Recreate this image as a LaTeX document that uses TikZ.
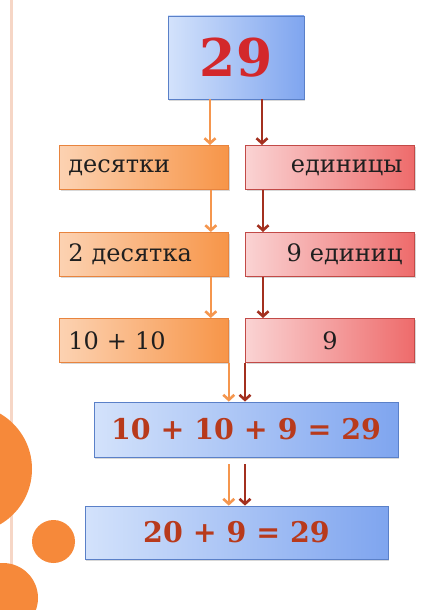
\documentclass[tikz,border=0pt]{standalone}
\usepackage{fontspec}
\setmainfont{DejaVu Serif}
\usetikzlibrary{arrows.meta,shadows}
\definecolor{blueL}{HTML}{D3E2FB}
\definecolor{blueR}{HTML}{7FA5EF}
\definecolor{blueline}{HTML}{5A80C8}
\definecolor{orangeL}{HTML}{FCD2B2}
\definecolor{orangeR}{HTML}{F79548}
\definecolor{orangeline}{HTML}{E8843E}
\definecolor{redL}{HTML}{FAD3D3}
\definecolor{redR}{HTML}{EE6B6B}
\definecolor{redline}{HTML}{C24A47}
\definecolor{tenarrowc}{HTML}{F5964E}
\definecolor{unitarrowc}{HTML}{A3301F}
\definecolor{sumred}{HTML}{B83A1C}
\definecolor{bigred}{HTML}{D3282B}
\definecolor{dotorange}{HTML}{F6893A}
\definecolor{railc}{HTML}{F6D6C6}
\tikzset{
  box/.style={draw,line width=0.8pt,minimum height=44pt,inner ysep=0pt,
    drop shadow={shadow xshift=1.2pt,shadow yshift=-1.6pt,opacity=.3},
    font=\fontsize{24}{26}\selectfont,text=black!88},
  tenbox/.style={box,draw=orangeline,left color=orangeL,right color=orangeR,
    text width=151pt,inner xsep=9pt,align=left},
  unitbox/.style={box,draw=redline,left color=redL,right color=redR,
    text width=145pt,inner xsep=12pt,align=right},
  sumbox/.style={draw=blueline,line width=0.8pt,left color=blueL,right color=blueR,
    drop shadow={shadow xshift=1.2pt,shadow yshift=-1.6pt,opacity=.3},
    font=\bfseries\fontsize{28.5}{30}\selectfont,text=sumred},
  tenarrow/.style={->,draw=tenarrowc,line width=2.6pt},
  unitarrow/.style={->,draw=unitarrowc,line width=2.6pt}
}
\begin{document}
\begin{tikzpicture}[x=1pt,y=-1pt,>={Straight Barb[length=5pt,width=11pt]}]
\useasboundingbox[fill=white](0,0)rectangle(445,610);
\clip(0,0)rectangle(445,610);
% left rail and dots
\draw[railc,line width=3pt](11,0)--(11,610);
\fill[dotorange](-32,469)circle(64);
\fill[dotorange](53.5,541.5)circle(21.5);
\fill[dotorange](3,598)circle(35);
% boxes
\node[sumbox,minimum width=136pt,minimum height=83pt,
  font=\bfseries\fontsize{52}{54}\selectfont,text=bigred](top)at(236,57.5){29};
\node[tenbox,anchor=north west](dec)at(59,145){десятки};
\node[unitbox,anchor=north west](unit)at(245,145){единицы};
\node[tenbox,anchor=north west](dec2)at(59,232){2 десятка};
\node[unitbox,anchor=north west](unit2)at(245,232){9 единиц};
\node[tenbox,anchor=north west](dec3)at(59,318){10 + 10};
\node[unitbox,anchor=north west,align=center](unit3)at(245,318){9};
\node[sumbox,minimum width=304pt,minimum height=55pt](eq)at(246,429.5){10 + 10 + 9 = 29};
\node[sumbox,minimum width=303pt,minimum height=53pt](res)at(236.5,532.5){20 + 9 = 29};
% arrows
\draw[tenarrow]([xshift=-26pt]top.south)--([xshift=-26pt]top.south|-dec.north);
\draw[unitarrow]([xshift=26pt]top.south)--([xshift=26pt]top.south|-unit.north);
\draw[tenarrow]([xshift=-18pt]dec.south east)--([xshift=-18pt]dec2.north east);
\draw[unitarrow]([xshift=18pt]unit.south west)--([xshift=18pt]unit2.north west);
\draw[tenarrow]([xshift=-18pt]dec2.south east)--([xshift=-18pt]dec3.north east);
\draw[unitarrow]([xshift=18pt]unit2.south west)--([xshift=18pt]unit3.north west);
\draw[tenarrow](dec3.south east)--(dec3.south east|-eq.north);
\draw[unitarrow](unit3.south west)--(unit3.south west|-eq.north);
\draw[tenarrow,shorten <=7pt](eq.south-|dec3.east)--(dec3.east|-res.north);
\draw[unitarrow,shorten <=7pt](eq.south-|unit3.west)--(unit3.west|-res.north);
\end{tikzpicture}
\end{document}
